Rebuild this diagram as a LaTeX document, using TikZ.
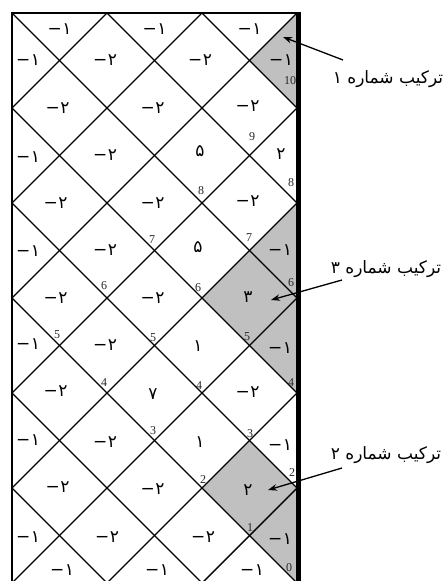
\documentclass[tikz,border=0pt]{standalone}
\usepackage{fontspec}
\setmainfont{Liberation Serif}
\newfontfamily\arabicfont[Script=Arabic]{DejaVu Sans}
\TeXXeTstate=1
\usetikzlibrary{arrows.meta}
\definecolor{cellgray}{RGB}{192,192,192}
\newcommand\mneg[1]{−\kern0.5pt#1}
\tikzset{
  num/.style={font=\arabicfont\fontsize{17}{17}\selectfont, inner sep=0pt},
  idx/.style={font=\fontsize{12}{12}\selectfont, inner sep=0pt, text=black!85},
  gridline/.style={line width=1.4pt},
  lab/.style={font=\arabicfont\fontsize{17}{20}\selectfont, inner sep=0pt},
  arr/.style={line width=1.3pt, -{Stealth[length=9pt,width=6.5pt]}},
  shade/.style={fill=cellgray, draw=none}
}
\begin{document}
\begin{tikzpicture}[x=1pt,y=-1pt]
\useasboundingbox (0,0) rectangle (444,581);
% shaded combinations
\fill[shade] (297,13) -- (249.5,60.5) -- (297,108) -- cycle;
\fill[shade] (297,203) -- (202,298) -- (297,393) -- cycle;
\fill[shade] (249.5,440.5) -- (202,488) -- (297,583) -- (297,488) -- cycle;
% diagonal grid
\begin{scope}
  \clip (12,13) rectangle (297,583);
  \foreach \k in {-6,...,3} {\draw[gridline] ({12+95*\k},13) -- ++(700,700);}
  \foreach \k in {0,...,9} {\draw[gridline] ({12+95*\k},13) -- ++(-700,700);}
\end{scope}
% frame
\draw[line width=2pt] (12,583) -- (12,13) -- (298,13);
\draw[line width=5pt] (298.2,12) -- (298.2,583);
% cell values
\foreach \x/\y/\t [count=\n] in {
  59.5/29/\mneg{۱}, 154.5/29/\mneg{۱}, 249.5/29/\mneg{۱},
  28/60.5/\mneg{۱}, 105/60.5/\mneg{۲}, 200/60.5/\mneg{۲}, 281/60.5/\mneg{۱},
  57.5/108/\mneg{۲}, 152.5/108/\mneg{۲}, 247.5/106/\mneg{۲},
  28/157/\mneg{۱}, 105/155.5/\mneg{۲}, 200/151/۵, 281/154/۲,
  55.5/203/\mneg{۲}, 152.5/203/\mneg{۲}, 247.5/201/\mneg{۲},
  28/251/\mneg{۱}, 105/250/\mneg{۲}, 198/247/۵, 280/250/\mneg{۱},
  55.5/298/\mneg{۲}, 152.5/298/\mneg{۲}, 248/297/۳,
  28/344/\mneg{۱}, 105/345.5/\mneg{۲}, 198/346/۱, 280/348/\mneg{۱},
  55.5/391/\mneg{۲}, 153/394/۷, 247.5/392/\mneg{۲},
  28/440/\mneg{۱}, 105/442/\mneg{۲}, 200/442/۱, 280/445/\mneg{۱},
  57.5/487/\mneg{۲}, 152.5/489/\mneg{۲}, 248/490/۲,
  28/537/\mneg{۱}, 107/537/\mneg{۲}, 203/537/\mneg{۲}, 280/539/\mneg{۱},
  62/570/\mneg{۱}, 157/570/\mneg{۱}, 252/570/\mneg{۱}}
  {\node[num] (c\n) at (\x,\y) {\t};}
% path indices
\foreach \x/\y/\t [count=\n] in {
  290/81/10, 252/137/9, 291/183/8, 201/191/8, 249/238/7, 152/240/7,
  291/283/6, 198/288/6, 104/286/6, 247/337/5, 153/338/5, 57/335/5,
  291/383/4, 199/386/4, 104/383/4, 250/434/3, 153/431/3,
  292/473/2, 203/480/2, 250/528/1, 289/568/0}
  {\node[idx] (p\n) at (\x,\y) {\t};}
% labels and arrows
\node[lab] (L1) at (388,79) {\beginR ترکیب شماره ۱\endR};
\node[lab] (L3) at (386,269) {\beginR ترکیب شماره ۳\endR};
\node[lab] (L2) at (386,455) {\beginR ترکیب شماره ۲\endR};
\coordinate (a1s) at (343,60);  \coordinate (a1e) at (283,37);
\coordinate (a3s) at (342,280); \coordinate (a3e) at (271,300);
\coordinate (a2s) at (342,468); \coordinate (a2e) at (268,490);
\draw[arr] (a1s) -- (a1e);
\draw[arr] (a3s) -- (a3e);
\draw[arr] (a2s) -- (a2e);
\end{tikzpicture}
\end{document}
